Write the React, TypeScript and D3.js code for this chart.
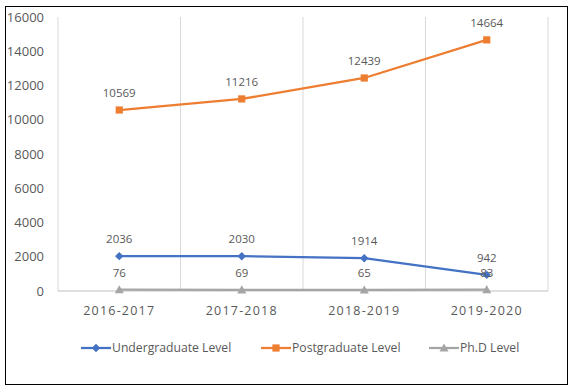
import React from "react";
import * as d3 from "d3";

const categories = ["2016-2017", "2017-2018", "2018-2019", "2019-2020"];
const undergraduate = [2036, 2030, 1914, 942];
const postgraduate = [10569, 11216, 12439, 14664];
const phd = [76, 69, 65, 83];
const yTicks = [0, 2000, 4000, 6000, 8000, 10000, 12000, 14000, 16000];
const seriesNames = ["Undergraduate Level", "Postgraduate Level", "Ph.D Level"];

const W = 576, H = 392;
const left = 58, right = 548, top = 17, bottom = 291;
const font = "'Open Sans', 'Liberation Sans', sans-serif";
const textColor = "#595959";

export default function App() {
  const x = d3.scaleBand().domain(categories).range([left, right]);
  const y = d3.scaleLinear().domain([0, 16000]).range([bottom, top]);
  const cx = (c: string) => (x(c) as number) + x.bandwidth() / 2;
  const line = d3.line<[number, number]>().x(d => d[0]).y(d => d[1]);

  const series = [
    { name: seriesNames[0], values: undergraduate, color: "#4472C4", marker: "diamond" },
    { name: seriesNames[1], values: postgraduate, color: "#ED7D31", marker: "square" },
    { name: seriesNames[2], values: phd, color: "#A5A5A5", marker: "triangle" },
  ];

  const marker = (type: string, px: number, py: number, color: string, key: string) => {
    if (type === "diamond") {
      const s = 4.2;
      return <path key={key} d={`M${px},${py - s}L${px + s},${py}L${px},${py + s}L${px - s},${py}Z`} fill={color} />;
    }
    if (type === "square") {
      const s = 3.6;
      return <rect key={key} x={px - s} y={py - s} width={2 * s} height={2 * s} fill={color} />;
    }
    const s = 4.5;
    return <path key={key} d={`M${px},${py - s}L${px + s},${py + s * 0.8}L${px - s},${py + s * 0.8}Z`} fill={color} />;
  };

  const legendX = [81, 261, 429];

  return (
    <svg width={W} height={H} style={{ position: "absolute", left: 0, top: 0 }} fontFamily={font}>
      <rect x={0} y={0} width={W} height={H} fill="#fff" />
      <rect x={5.5} y={6.5} width={562} height={378} fill="none" stroke="#000" strokeWidth={1} />
      {[...categories.map(c => x(c) as number), right].map((gx, i) => (
        <line key={i} x1={gx} x2={gx} y1={top} y2={bottom} stroke="#D9D9D9" strokeWidth={1} />
      ))}
      <line x1={left} x2={right} y1={bottom} y2={bottom} stroke="#BFBFBF" strokeWidth={1} />
      {yTicks.map(t => (
        <text key={t} x={44} y={y(t)} dy="0.35em" textAnchor="end" fontSize={13} fill={textColor}>{t}</text>
      ))}
      {categories.map(c => (
        <text key={c} x={cx(c)} y={311} dy="0.35em" textAnchor="middle" fontSize={12.5} letterSpacing={1.2} fill={textColor}>{c}</text>
      ))}
      {series.map(s => {
        const pts = s.values.map((v, i) => [cx(categories[i]), y(v)] as [number, number]);
        return (
          <g key={s.name}>
            <path d={line(pts) as string} fill="none" stroke={s.color} strokeWidth={2.25} strokeLinejoin="round" />
            {pts.map((p, i) => marker(s.marker, p[0], p[1], s.color, s.name + i))}
            {pts.map((p, i) => (
              <text key={"l" + i} x={p[0]} y={p[1] - 17} dy="0.35em" textAnchor="middle" fontSize={11.5} fill={textColor}>{s.values[i]}</text>
            ))}
          </g>
        );
      })}
      {series.map((s, i) => (
        <g key={"leg" + i}>
          <line x1={legendX[i]} x2={legendX[i] + 30} y1={348} y2={348} stroke={s.color} strokeWidth={2.25} />
          {marker(s.marker, legendX[i] + 15, 348, s.color, "lm" + i)}
          <text x={legendX[i] + 31} y={348} dy="0.35em" fontSize={12.2} fill={textColor}>{s.name}</text>
        </g>
      ))}
    </svg>
  );
}
